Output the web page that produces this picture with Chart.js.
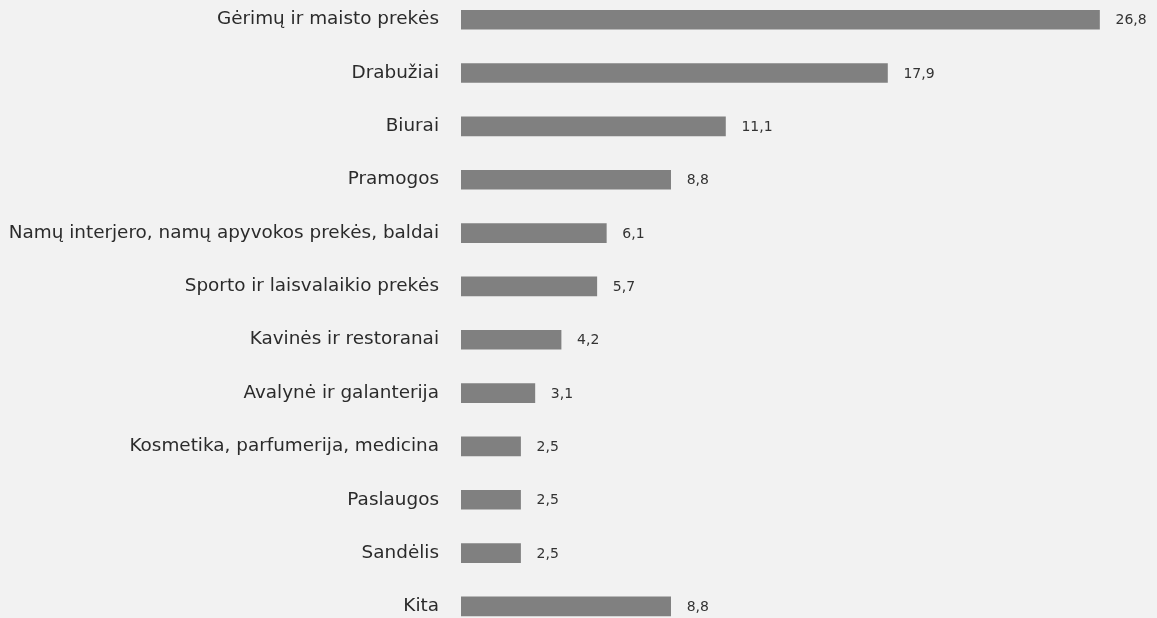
<!DOCTYPE html>
<html>
<head>
<meta charset="utf-8">
<script src="https://cdn.jsdelivr.net/npm/chart.js@4/dist/chart.umd.min.js"></script>
<style>
  html, body { margin: 0; padding: 0; background: #f2f2f2; overflow: hidden; }
  #wrap { position: absolute; left: 0; top: -7px; width: 1157px; height: 640px; }
</style>
</head>
<body>
<div id="wrap"><canvas id="c"></canvas></div>
<script>
const categories = [
  "Gėrimų ir maisto prekės",
  "Drabužiai",
  "Biurai",
  "Pramogos",
  "Namų interjero, namų apyvokos prekės, baldai",
  "Sporto ir laisvalaikio prekės",
  "Kavinės ir restoranai",
  "Avalynė ir galanterija",
  "Kosmetika, parfumerija, medicina",
  "Paslaugos",
  "Sandėlis",
  "Kita"
];
const values = [26.8, 17.9, 11.1, 8.8, 6.1, 5.7, 4.2, 3.1, 2.5, 2.5, 2.5, 8.8];

const valueLabels = {
  id: 'valueLabels',
  afterDatasetsDraw(chart) {
    const ctx = chart.ctx;
    const meta = chart.getDatasetMeta(0);
    ctx.save();
    ctx.font = '14px "DejaVu Sans", sans-serif';
    ctx.fillStyle = '#333333';
    ctx.textAlign = 'left';
    ctx.textBaseline = 'middle';
    meta.data.forEach((bar, i) => {
      const txt = values[i].toFixed(1).replace('.', ',');
      ctx.fillText(txt, bar.x + 16, bar.y + 1);
    });
    ctx.restore();
  }
};

const chart = new Chart(document.getElementById('c'), {
  type: 'bar',
  data: {
    labels: categories,
    datasets: [{
      data: values,
      backgroundColor: '#808080',
      borderWidth: 0,
      barThickness: 19
    }]
  },
  options: {
    indexAxis: 'y',
    responsive: true,
    maintainAspectRatio: false,
    animation: false,
    layout: { padding: { left: 0, right: 17, top: 0, bottom: 0 } },
    plugins: { legend: { display: false }, tooltip: { enabled: false } },
    scales: {
      x: {
        display: false,
        min: 0,
        max: 28.5
      },
      y: {
        grid: { display: false },
        border: { display: false },
        ticks: {
          color: '#2b2b2b',
          padding: 14,
          font: { family: '"DejaVu Sans", sans-serif', size: 18.4 }
        },
        afterFit(scale) { scale.width = 461; }
      }
    }
  },
  plugins: [valueLabels]
});

// Compensate the axis' extra vertical padding so the category bands span 640px
(function fit() {
  const wrap = document.getElementById('wrap');
  const H = chart.height;
  const ca = chart.chartArea;
  const padTop = ca.top;
  const padBottom = H - ca.bottom;
  wrap.style.top = (-7 - padTop) + 'px';
  wrap.style.height = (640 + padTop + padBottom) + 'px';
  chart.resize();
})();
</script>
</body>
</html>
